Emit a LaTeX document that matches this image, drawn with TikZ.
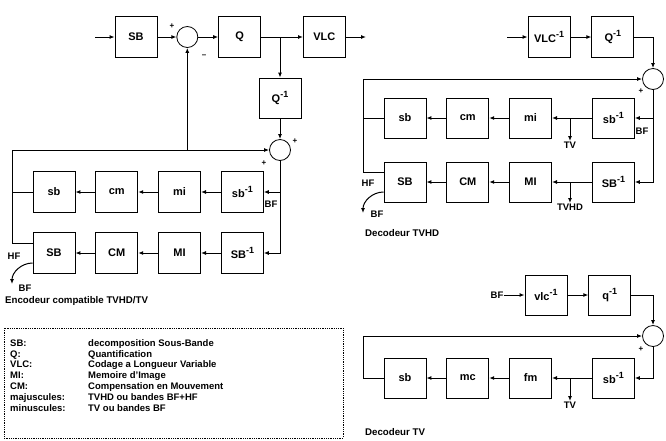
\documentclass[tikz,border=0pt]{standalone}
\usepackage{fontspec}
\setmainfont{Liberation Sans}
\usetikzlibrary{arrows.meta, positioning}
\tikzset{
    bloc/.style={rectangle, draw, line width=0.8pt, minimum width=42pt, minimum height=41pt,
        inner sep=1pt, font=\fontsize{11}{12}\selectfont\bfseries},
    petitbloc/.style={bloc, minimum height=40pt},
    somme/.style={circle, draw, line width=0.8pt, minimum size=21pt, inner sep=0pt},
    fleche/.style={-{Latex[length=5pt, width=4pt]}, line width=1pt},
    lien/.style={line width=1pt},
    signe/.style={inner sep=0pt, font=\fontsize{8}{9}\selectfont\bfseries},
    etiq/.style={inner sep=0pt, font=\fontsize{9.5}{11}\selectfont\bfseries},
    titre/.style={anchor=west, inner sep=0pt, font=\fontsize{9.7}{11}\selectfont\bfseries}
}
\newcommand{\invers}[1]{#1\raisebox{5pt}{\fontsize{9}{9}\selectfont -1}}

\begin{document}
\begin{tikzpicture}[x=1pt, y=-1pt, node distance=20pt]
    \useasboundingbox (0,0) rectangle (666,440);

    % encodeur
    \node[bloc] (encSB) at (136,37) {SB};
    \node[somme, right=19pt of encSB] (encS1) {};
    \node[bloc, right=of encS1] (encQ) {Q};
    \node[bloc, right=42pt of encQ] (encVLC) {VLC};
    \node[petitbloc] (encQi) at (280,98) {\invers{Q}};
    \node[somme] (encS2) at (280,150) {};
    \node[bloc] (encsb) at (54,192) {sb};
    \node[bloc, right=of encsb] (enccm) {cm};
    \node[bloc, right=of enccm] (encmi) {mi};
    \node[bloc, right=of encmi] (encsbi) {\invers{sb}};
    \node[bloc] (encSB2) at (54,253) {SB};
    \node[bloc, right=of encSB2] (encCM) {CM};
    \node[bloc, right=of encCM] (encMI) {MI};
    \node[bloc, right=of encMI] (encSBi) {\invers{SB}};
    \coordinate (encIn) at (95,37);
    \coordinate (encOut) at (366,37);
    \coordinate (encG) at (12,150);
    \coordinate (encBF) at (12,284);

    \draw[fleche] (encIn) -- (encSB);
    \draw[fleche] (encSB) -- (encS1);
    \draw[fleche] (encS1) -- (encQ);
    \draw[fleche] (encQ) -- (encVLC);
    \draw[fleche] (encVLC) -- (encOut);
    \draw[fleche] (encQ.east -| encQi) -- (encQi);
    \draw[fleche] (encQi) -- (encS2);
    \draw[fleche] (encS2.south) |- (encSBi.east);
    \draw[fleche] (encsbi.east -| encS2) -- (encsbi.east);
    \draw[fleche] (encsbi) -- (encmi);
    \draw[fleche] (encmi) -- (enccm);
    \draw[fleche] (enccm) -- (encsb);
    \draw[fleche] (encSBi) -- (encMI);
    \draw[fleche] (encMI) -- (encCM);
    \draw[fleche] (encCM) -- (encSB2);
    \draw[lien] (encsb.west) -- (encsb.west -| encG);
    \draw[fleche] ([yshift=10pt]encSB2.west) -| (encG) -- (encS2);
    \draw[fleche] (encS1 |- encG) -- (encS1);
    \draw[fleche] ([yshift=-10pt]encSB2.west) to[out=180, in=90] (encBF);

    \node[signe] (encP1) at (172,26) {+};
    \node[signe] (encM1) at (204,56) {\textendash};
    \node[signe] (encP2) at (295,141) {+};
    \node[signe] (encP3) at (264,163) {+};
    \node[etiq] (encBFa) at (271,204) {BF};
    \node[etiq] (encHF) at (14,256) {HF};
    \node[etiq] (encBFb) at (25,288) {BF};
    \node[titre] (encTitre) at (5,301) {Encodeur compatible TVHD/TV};

    % legende
    \draw[densely dotted, thick] (4,328) rectangle (343,438);
    \node[etiq, anchor=north west, align=left] (legende) at (10,338.5) {%
        \fontsize{9.5}{10.8}\selectfont
        \begin{tabular}{@{}p{78pt}@{}l@{}}
            SB: & decomposition Sous-Bande\\
            Q: & Quantification\\
            VLC: & Codage a Longueur Variable\\
            MI: & Memoire d'Image\\
            CM: & Compensation en Mouvement\\
            majuscules: & TVHD ou bandes BF+HF\\
            minuscules: & TV ou bandes BF
        \end{tabular}};

    % decodeur TVHD
    \node[bloc] (hdVLCi) at (549,37) {\invers{VLC}};
    \node[bloc, right=21pt of hdVLCi] (hdQi) {\invers{Q}};
    \node[somme] (hdS) at (653,79) {};
    \node[petitbloc] (hdsb) at (405,118) {sb};
    \node[petitbloc, right=of hdsb] (hdcm) {cm};
    \node[petitbloc, right=of hdcm] (hdmi) {mi};
    \node[petitbloc, right=40pt of hdmi] (hdsbi) {\invers{sb}};
    \node[petitbloc] (hdSB) at (405,182) {SB};
    \node[petitbloc, right=of hdSB] (hdCM) {CM};
    \node[petitbloc, right=of hdCM] (hdMI) {MI};
    \node[petitbloc, right=40pt of hdMI] (hdSBi) {\invers{SB}};
    \coordinate (hdIn) at (507,37);
    \coordinate (hdG) at (363,79);
    \coordinate (hdTV) at (570,141);
    \coordinate (hdTVHD) at (570,203);
    \coordinate (hdBF) at (363,213);

    \draw[fleche] (hdIn) -- (hdVLCi);
    \draw[fleche] (hdVLCi) -- (hdQi);
    \draw[fleche] (hdQi.east) -| (hdS);
    \draw[fleche] (hdS.south) |- (hdSBi.east);
    \draw[fleche] (hdsbi.east -| hdS) -- (hdsbi.east);
    \draw[fleche] (hdsbi) -- (hdmi);
    \draw[fleche] (hdmi) -- (hdcm);
    \draw[fleche] (hdcm) -- (hdsb);
    \draw[fleche] (hdSBi) -- (hdMI);
    \draw[fleche] (hdMI) -- (hdCM);
    \draw[fleche] (hdCM) -- (hdSB);
    \draw[fleche] (hdmi.east -| hdTV) -- (hdTV);
    \draw[fleche] (hdMI.east -| hdTVHD) -- (hdTVHD);
    \draw[lien] (hdsb.west) -- (hdsb.west -| hdG);
    \draw[fleche] ([yshift=10pt]hdSB.west) -| (hdG) -- (hdS);
    \draw[fleche] ([yshift=-10pt]hdSB.west) to[out=180, in=90] (hdBF);

    \node[signe] (hdP) at (641,91) {+};
    \node[etiq] (hdBFa) at (642,131) {BF};
    \node[etiq, below=1pt of hdTV] (hdTVl) {TV};
    \node[etiq, below=1pt of hdTVHD] (hdTVHDl) {TVHD};
    \node[etiq] (hdHF) at (368,183) {HF};
    \node[etiq] (hdBFb) at (377,214) {BF};
    \node[titre] (hdTitre) at (365,233) {Decodeur TVHD};

    % decodeur TV
    \node[etiq] (tvBF) at (497,295) {BF};
    \node[petitbloc, right=21pt of tvBF] (tvvlci) {\invers{vlc}};
    \node[petitbloc, right=21pt of tvvlci] (tvqi) {\invers{q}};
    \node[somme] (tvS) at (653,336) {};
    \node[petitbloc] (tvsb) at (405,378) {sb};
    \node[petitbloc, right=of tvsb] (tvmc) {mc};
    \node[petitbloc, right=of tvmc] (tvfm) {fm};
    \node[petitbloc, right=40pt of tvfm] (tvsbi) {\invers{sb}};
    \coordinate (tvG) at (363,336);
    \coordinate (tvTV) at (570,401);

    \draw[fleche] (tvBF) -- (tvvlci);
    \draw[fleche] (tvvlci) -- (tvqi);
    \draw[fleche] (tvqi.east) -| (tvS);
    \draw[fleche] (tvS.south) |- (tvsbi.east);
    \draw[fleche] (tvsbi) -- (tvfm);
    \draw[fleche] (tvfm) -- (tvmc);
    \draw[fleche] (tvmc) -- (tvsb);
    \draw[fleche] (tvfm.east -| tvTV) -- (tvTV);
    \draw[fleche] (tvsb.west) -| (tvG) -- (tvS);

    \node[signe] (tvP) at (641,349) {+};
    \node[etiq, below=1pt of tvTV] (tvTVl) {TV};
    \node[titre] (tvTitre) at (365,432) {Decodeur TV};
\end{tikzpicture}
\end{document}
